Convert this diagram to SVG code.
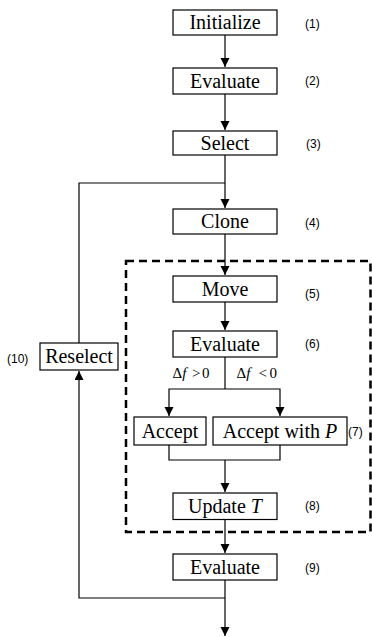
<svg xmlns="http://www.w3.org/2000/svg" width="372" height="637" viewBox="0 0 372 637">
<defs>
<marker id="ah" markerUnits="userSpaceOnUse" markerWidth="10" markerHeight="10" refX="9" refY="4.5" orient="auto">
<path d="M0,0 L9,4.5 L0,9 Z" fill="#000"/>
</marker>
<style>
.box{fill:#fff;stroke:#000;stroke-width:1.2}
.t{font-family:"Liberation Serif","Times New Roman","DejaVu Serif",serif;font-size:20px;text-anchor:middle;fill:#000}
.n{font-family:"Liberation Sans",Arial,sans-serif;font-size:12px;fill:#000}
.c{fill:none;stroke:#000;stroke-width:1.2}
.d{font-family:"Liberation Serif","Times New Roman","DejaVu Serif",serif;font-size:15px;fill:#000}
</style>
</defs>
<rect width="372" height="637" fill="#fff"/>
<g id="connectors">
<path class="c" d="M225,35 V67" marker-end="url(#ah)"/>
<path class="c" d="M225,94 V130" marker-end="url(#ah)"/>
<path class="c" d="M225,155 V208" marker-end="url(#ah)"/>
<path class="c" d="M79,343 V183 H225"/>
<path class="c" d="M225,234 V275" marker-end="url(#ah)"/>
<path class="c" d="M225,302 V330" marker-end="url(#ah)"/>
<path class="c" d="M225,357 V389"/>
<path class="c" d="M225,389 H169 V416" marker-end="url(#ah)"/>
<path class="c" d="M225,389 H280 V416" marker-end="url(#ah)"/>
<path class="c" d="M169,445 V460 H280 V445"/>
<path class="c" d="M225,460 V492" marker-end="url(#ah)"/>
<path class="c" d="M225,519 V553" marker-end="url(#ah)"/>
<path class="c" d="M225,580 V636" marker-end="url(#ah)"/>
<path class="c" d="M225,598 H79 V371" marker-end="url(#ah)"/>
<text class="d" y="378.3"><tspan x="172.5">Δ</tspan><tspan font-style="italic">f</tspan><tspan x="192">&gt;</tspan><tspan x="202">0</tspan></text>
<text class="d" y="378.3"><tspan x="236.5">Δ</tspan><tspan font-style="italic">f</tspan><tspan x="258.5">&lt;</tspan><tspan x="269.5">0</tspan></text>
</g>
<g id="loop-box">
<rect x="126" y="261" width="244.5" height="271" fill="none" stroke="#000" stroke-width="2.5" stroke-dasharray="8,5"/>
</g>
<g id="n1"><rect class="box" x="173" y="10" width="104" height="25"/><text class="t" x="225" y="29">Initialize</text><text class="n" x="305" y="27.5">(1)</text></g>
<g id="n2"><rect class="box" x="173" y="68" width="104" height="26"/><text class="t" x="225" y="87.5">Evaluate</text><text class="n" x="305" y="84.5">(2)</text></g>
<g id="n3"><rect class="box" x="173" y="131" width="104" height="24"/><text class="t" x="225" y="149.5">Select</text><text class="n" x="306" y="147.5">(3)</text></g>
<g id="n4"><rect class="box" x="173" y="209" width="104" height="25"/><text class="t" x="225" y="228">Clone</text><text class="n" x="305" y="226.5">(4)</text></g>
<g id="n5"><rect class="box" x="173" y="276" width="104" height="26"/><text class="t" x="225" y="295.5">Move</text><text class="n" x="305" y="297.5">(5)</text></g>
<g id="n6"><rect class="box" x="173" y="331" width="104" height="26"/><text class="t" x="225" y="350.5">Evaluate</text><text class="n" x="305" y="347.5">(6)</text></g>
<g id="n7a"><rect class="box" x="134" y="417" width="72" height="28"/><text class="t" x="170" y="437.5">Accept</text></g>
<g id="n7b"><rect class="box" x="213" y="417" width="134" height="28"/><text class="t" x="280" y="437.5">Accept with <tspan font-style="italic">P</tspan></text><text class="n" x="348" y="436">(7)</text></g>
<g id="n8"><rect class="box" x="173" y="493" width="104" height="26.5"/><text class="t" x="225" y="512.5">Update <tspan font-style="italic">T</tspan></text><text class="n" x="305" y="509.5">(8)</text></g>
<g id="n9"><rect class="box" x="173" y="554" width="104" height="26"/><text class="t" x="225" y="573.5">Evaluate</text><text class="n" x="305" y="571.5">(9)</text></g>
<g id="n10"><rect class="box" x="40" y="343" width="78" height="27"/><text class="t" x="79" y="363">Reselect</text><text class="n" x="7" y="362.5">(10)</text></g>
</svg>
